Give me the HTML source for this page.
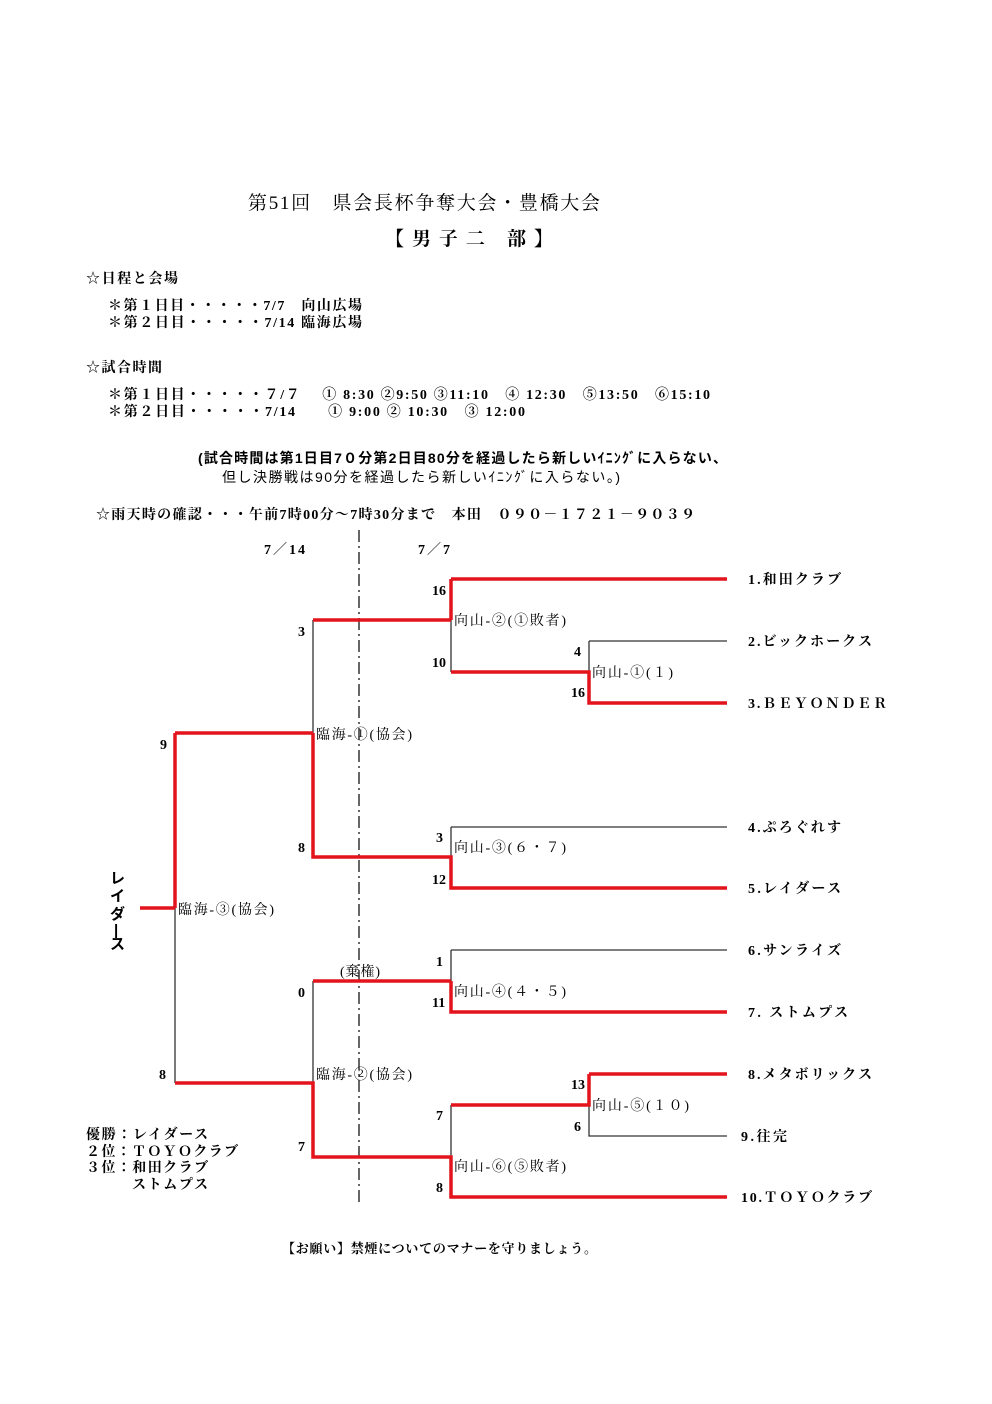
<!DOCTYPE html>
<html><head><meta charset="utf-8"><style>
html,body{margin:0;padding:0;background:#fff;}
svg{display:block;}
text{font-family:"Liberation Serif","Noto Serif CJK JP","Noto Serif CJK SC",serif;font-size:14px;fill:#000;}
.b{font-weight:bold;}
.s{font-family:"Liberation Sans","Noto Sans CJK JP",sans-serif;font-weight:bold;font-size:14px;}
.r{stroke:#e3141b;stroke-width:3.5;fill:none;}
.k{stroke:#333;stroke-width:1.3;fill:none;}
</style></head><body>
<svg width="992" height="1404" xmlns="http://www.w3.org/2000/svg">
<text x="248" y="209" style="font-size:19px" textLength="352" lengthAdjust="spacing">第51回　県会長杯争奪大会・豊橋大会</text>
<text x="385" y="245" class="b" style="font-size:19px" textLength="168" lengthAdjust="spacing">【 男 子 二　部 】</text>
<text x="86" y="283" class="b" textLength="92">☆日程と会場</text>
<text x="108" y="310" class="b" textLength="254">＊第１日目・・・・・7/7　向山広場</text>
<text x="108" y="327" class="b" textLength="254">＊第２日目・・・・・7/14 臨海広場</text>
<text x="86" y="372" class="b" textLength="76">☆試合時間</text>
<text x="108" y="399" class="b" textLength="602">＊第１日目・・・・・７/７　 ① 8:30 ②9:50 ③11:10　④ 12:30　⑤13:50　⑥15:10</text>
<text x="108" y="416" class="b" textLength="417">＊第２日目・・・・・7/14　　① 9:00 ② 10:30　③ 12:00</text>
<text x="198" y="463" class="s" textLength="529">(試合時間は第1日目7０分第2日目80分を経過したら新しいｲﾆﾝｸﾞに入らない、</text>
<text x="222" y="482" class="s" style="font-weight:normal" textLength="398">但し決勝戦は90分を経過したら新しいｲﾆﾝｸﾞに入らない。)</text>
<text x="96" y="519" class="b" textLength="599">☆雨天時の確認・・・午前7時00分～7時30分まで　本田　０９０－１７２１－９０３９</text>

<text x="264" y="554" class="b" textLength="41">7／14</text>
<text x="418" y="554" class="b" textLength="32">7／7</text>
<line x1="359" y1="530" x2="359" y2="1205" stroke="#333" stroke-width="1.5" stroke-dasharray="12,4,2,4"/>

<path class="k" d="M589 641H727M589 641V672M451 620V672M451 827H727M451 827V857M313 620V733M451 950H727M451 950V981M589 1105V1136H727M313 981V1083M451 1105V1157M175 908V1083"/>
<path class="r" d="M451 579H727M451 579V620M313 620H451M451 672H589V703H727M313 733V857H451V888H727M175 733H313M175 733V908M140 908H175M451 981V1012H727M313 981H451M589 1074H727M589 1074V1105H451M175 1083H313V1157H451V1197H727"/>

<text x="748" y="584" class="b" textLength="93">1.和田クラブ</text>
<text x="748" y="646" class="b" textLength="124">2.ビックホークス</text>
<text x="748" y="708" class="b" textLength="139">3.ＢＥＹＯＮＤＥＲ</text>
<text x="748" y="832" class="b" textLength="93">4.ぷろぐれす</text>
<text x="748" y="893" class="b" textLength="93">5.レイダース</text>
<text x="748" y="955" class="b" textLength="93">6.サンライズ</text>
<text x="748" y="1017" class="b" textLength="100">7.  ストムプス</text>
<text x="748" y="1079" class="b" textLength="124">8.メタボリックス</text>
<text x="741" y="1141" class="b" textLength="46">9.往完</text>
<text x="741" y="1202" class="b" textLength="131">10.ＴＯＹＯクラブ</text>

<text x="432" y="595" class="b">16</text>
<text x="432" y="667" class="b">10</text>
<text x="574" y="656" class="b">4</text>
<text x="571" y="697" class="b">16</text>
<text x="454" y="625" textLength="112">向山-②(①敗者)</text>
<text x="592" y="677" textLength="81">向山-①(１)</text>
<text x="298" y="636" class="b">3</text>
<text x="298" y="852" class="b">8</text>
<text x="316" y="739" textLength="96">臨海-①(協会)</text>
<text x="436" y="842" class="b">3</text>
<text x="432" y="884" class="b">12</text>
<text x="454" y="852" textLength="112">向山-③(６・７)</text>
<text x="160" y="749" class="b">9</text>
<text x="159" y="1079" class="b">8</text>
<text x="178" y="914" textLength="96">臨海-③(協会)</text>
<text x="340" y="976" textLength="40">(棄権)</text>
<text x="298" y="997" class="b">0</text>
<text x="298" y="1151" class="b">7</text>
<text x="316" y="1079" textLength="96">臨海-②(協会)</text>
<text x="436" y="966" class="b">1</text>
<text x="432" y="1007" class="b">11</text>
<text x="454" y="996" textLength="112">向山-④(４・５)</text>
<text x="571" y="1089" class="b">13</text>
<text x="574" y="1131" class="b">6</text>
<text x="592" y="1110" textLength="97">向山-⑤(１０)</text>
<text x="436" y="1120" class="b">7</text>
<text x="436" y="1192" class="b">8</text>
<text x="454" y="1171" textLength="112">向山-⑥(⑤敗者)</text>

<text x="110" y="883" class="s" style="font-size:15px">レ</text>
<text x="110" y="901" class="s" style="font-size:15px">イ</text>
<text x="110" y="919" class="s" style="font-size:15px">ダ</text>
<text x="114" y="935" class="s" style="font-size:15px">|</text>
<text x="110" y="949" class="s" style="font-size:15px">ス</text>

<text x="86" y="1139" class="b" textLength="122">優勝：レイダース</text>
<text x="86" y="1156" class="b" textLength="152">２位：ＴＯＹＯクラブ</text>
<text x="86" y="1172" class="b" textLength="122">３位：和田クラブ</text>
<text x="132" y="1189" class="b" textLength="76">ストムプス</text>

<text x="282" y="1253" class="b" style="font-size:13px" textLength="315">【お願い】禁煙についてのマナーを守りましょう。</text>
</svg>
</body></html>
